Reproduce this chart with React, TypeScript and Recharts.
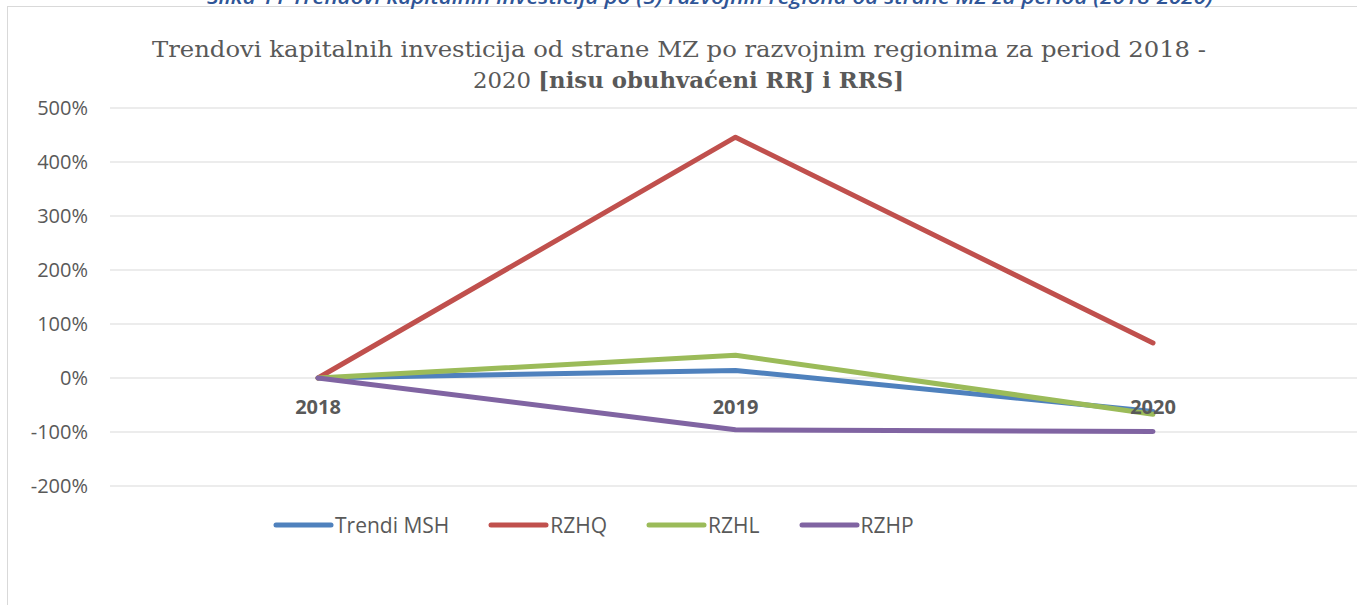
import React from 'react';
import { LineChart, Line, XAxis, YAxis, CartesianGrid, ReferenceDot, Legend } from 'recharts';

const years = ['2018', '2019', '2020'];
const trendiMSH = [0, 14, -62];
const rzhq = [0, 446, 65];
const rzhl = [0, 42, -67];
const rzhp = [0, -96, -99];
const yTicks = [-200, -100, 0, 100, 200, 300, 400, 500];

const seriesNames = ['Trendi MSH', 'RZHQ', 'RZHL', 'RZHP'];
const seriesColors = ['#4f81bd', '#c0504d', '#9bbb59', '#8064a2'];
const seriesKeys = ['msh', 'rzhq', 'rzhl', 'rzhp'];

const data = years.map((y, i) => ({
  year: y,
  msh: trendiMSH[i],
  rzhq: rzhq[i],
  rzhl: rzhl[i],
  rzhp: rzhp[i],
}));

const TEXT = '#595959';
const SANS = '"Open Sans", "Liberation Sans", sans-serif';

const LegendContent = () => (
  <div style={{ display: 'flex', alignItems: 'center', fontFamily: SANS, fontSize: 21, color: TEXT, whiteSpace: 'nowrap' }}>
    {seriesNames.map((n, i) => (
      <div key={n} style={{ display: 'flex', alignItems: 'center', marginRight: 39 }}>
        <svg width={61} height={10} style={{ display: 'block' }}>
          <line x1={3} y1={5} x2={58} y2={5} stroke={seriesColors[i]} strokeWidth={5} strokeLinecap="round" />
        </svg>
        <span style={{ marginLeft: 1, lineHeight: '26px' }}>{n}</span>
      </div>
    ))}
  </div>
);

export default function App() {
  return (
    <div style={{ position: 'fixed', left: 0, top: 0, width: 1357, height: 605, overflow: 'hidden', background: '#fff' }}>
      <div style={{ position: 'absolute', left: 7, top: 6, width: 1500, height: 800, borderLeft: '1px solid #d9d9d9', borderTop: '1px solid #d9d9d9' }} />
      <svg width={1357} height={100} style={{ position: 'absolute', left: 0, top: 0 }}>
        <text x={207} y={4} fontFamily={SANS} fontStyle="italic" fontWeight={600} fontSize={19} fill="#2f5597" textLength={1006} lengthAdjust="spacingAndGlyphs">
          Slika 11 Trendovi kapitalnih investicija po (5) razvojnih regiona od strane MZ za period (2018-2020)
        </text>
        <text x={152} y={57} fontFamily='"DejaVu Serif", serif' fontSize={23} fill={TEXT} textLength={1054} lengthAdjust="spacingAndGlyphs">
          Trendovi kapitalnih investicija od strane MZ po razvojnim regionima za period 2018 -
        </text>
        <text x={473} y={88} fontFamily='"DejaVu Serif", serif' fontSize={23} fill={TEXT} textLength={431} lengthAdjust="spacingAndGlyphs">
          2020 <tspan fontWeight="bold">[nisu obuhvaćeni RRJ i RRS]</tspan>
        </text>
      </svg>
      <div style={{ position: 'absolute', left: 0, top: 0 }}>
        <LineChart width={1400} height={605} data={data} margin={{ top: 108, right: 39, bottom: 119, left: 0 }}>
          <CartesianGrid horizontal vertical={false} stroke="#d9d9d9" strokeWidth={1} />
          <XAxis dataKey="year" hide padding={{ left: 208, right: 208 }} />
          <YAxis
            width={110}
            domain={[-200, 500]}
            ticks={yTicks}
            interval={0}
            axisLine={false}
            tickLine={false}
            tickSize={0}
            tickMargin={22}
            tickFormatter={(v: number) => `${v}%`}
            tick={{ fill: TEXT, fontSize: 20, fontFamily: SANS }}
          />
          {seriesKeys.map((k, i) => (
            <Line
              key={k}
              dataKey={k}
              name={seriesNames[i]}
              type="linear"
              stroke={seriesColors[i]}
              strokeWidth={5}
              strokeLinecap="round"
              strokeLinejoin="round"
              dot={false}
              activeDot={false}
              isAnimationActive={false}
            />
          ))}
          {years.map((y) => (
            <ReferenceDot
              key={y}
              x={y}
              y={0}
              r={0}
              fill="none"
              stroke="none"
              ifOverflow="visible"
              label={{ value: y, position: 'bottom', offset: 22, fill: TEXT, fontSize: 20, fontWeight: 'bold', fontFamily: SANS }}
            />
          ))}
          <Legend
            layout="horizontal"
            verticalAlign="middle"
            align="center"
            content={<LegendContent />}
            wrapperStyle={{ position: 'absolute', top: 512, left: 273, width: 'auto' }}
          />
        </LineChart>
      </div>
    </div>
  );
}
